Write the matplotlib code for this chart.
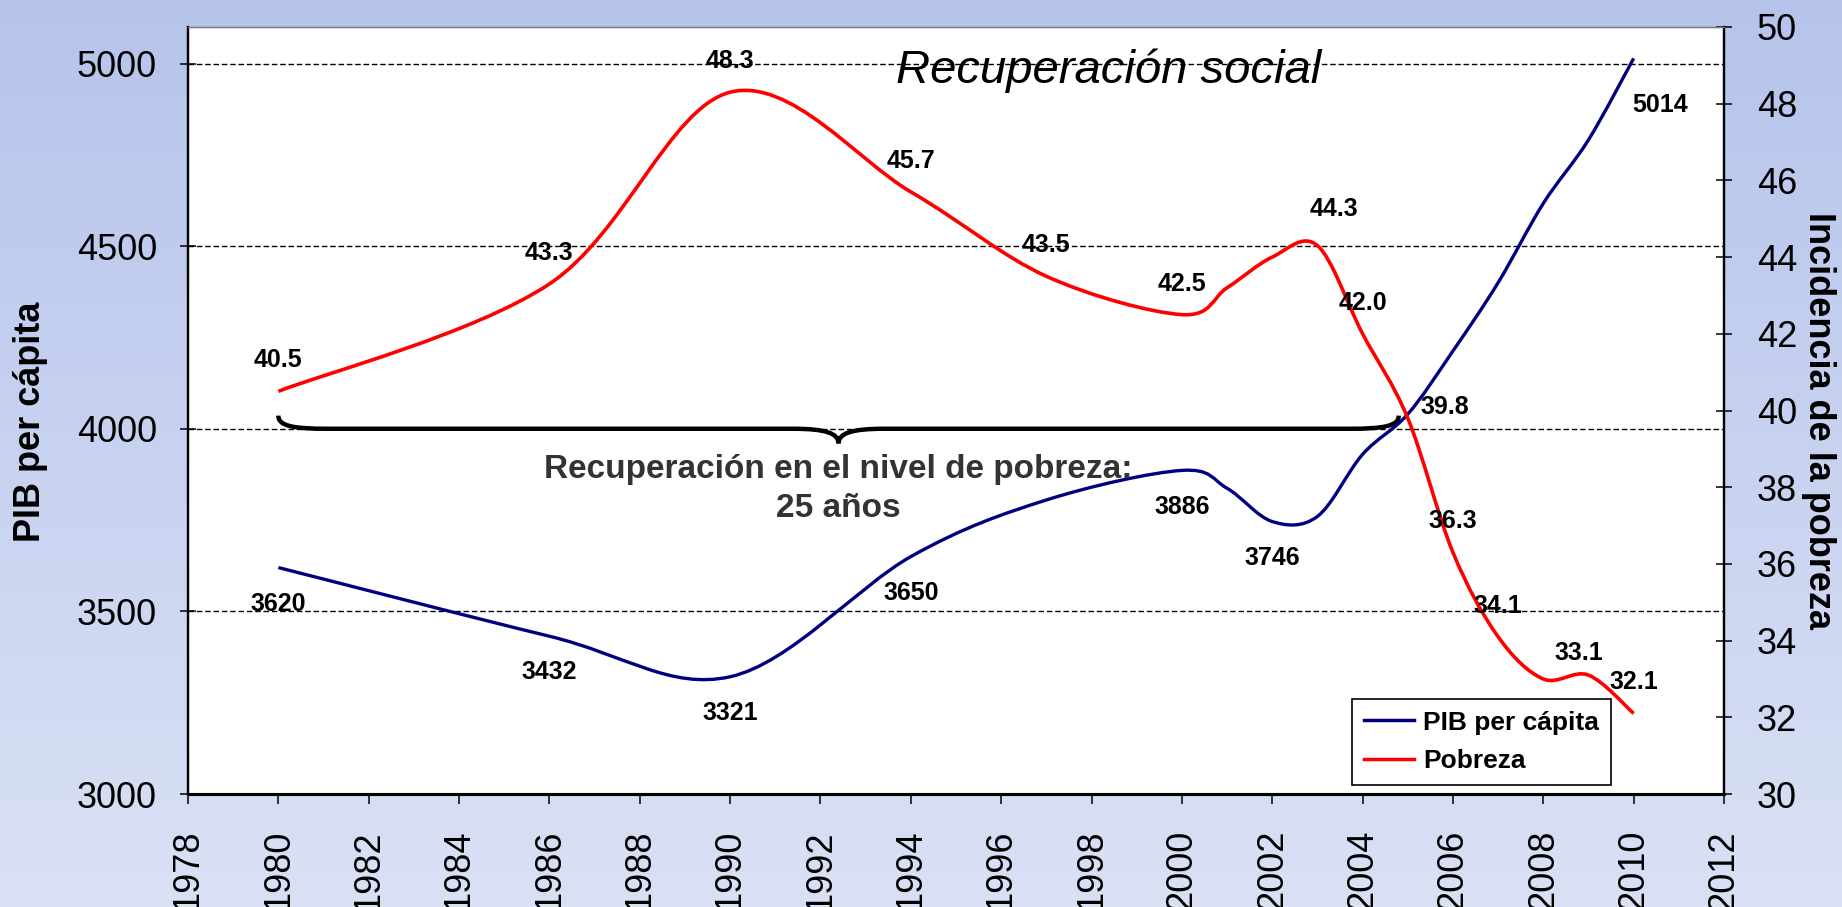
import numpy as np
import matplotlib
matplotlib.use('Agg')
import matplotlib.pyplot as plt
from matplotlib.path import Path
from matplotlib.patches import PathPatch
from matplotlib.lines import Line2D
from matplotlib.colors import LinearSegmentedColormap

plt.rcParams['font.family'] = ['Liberation Sans', 'DejaVu Sans']

# Datos
years = [1980, 1986, 1990, 1994, 1997, 2000, 2001, 2002, 2003, 2004, 2005, 2006, 2007, 2008, 2009, 2010]
pib = [3620, 3432, 3321, 3650, 3805, 3886, 3837, 3746, 3760, 3930, 4040, 4213, 4400, 4617, 4791, 5014]
pobreza = [40.5, 43.3, 48.3, 45.7, 43.5, 42.5, 43.2, 44.0, 44.3, 42.0, 39.8, 36.3, 34.1, 33.0, 33.1, 32.1]

# Etiquetas visibles (None = sin etiqueta)
pib_labels = ['3620', '3432', '3321', '3650', None, '3886', None, '3746', None, None, None, None, None, None, None, '5014']
pob_labels = ['40.5', '43.3', '48.3', '45.7', '43.5', '42.5', None, None, '44.3', '42.0', '39.8', '36.3', '34.1', None, '33.1', '32.1']

x_ticks = list(range(1978, 2013, 2))
pib_ticks = [3000, 3500, 4000, 4500, 5000]
pob_ticks = list(range(30, 51, 2))

brace_start, brace_end = 1980, 2004.8
brace_level = 4000

# Desplazamientos de etiquetas (puntos)
pib_offset = (0, -26)
pob_offset = (0, 22.3)
label_nudge_pib = {2010: (18.7, -33.5)}
label_nudge_pob = {2003: (12.2, 26.6), 2005: (26.6, 8.3), 2009: (-6.8, 15.8)}

BLUE = '#000080'
RED = '#ff0000'


def smooth_path(xs, ys):
    # curva suavizada tipo Excel (Bezier, tangentes 1/6)
    pts = np.column_stack([xs, ys]).astype(float)
    ext = np.vstack([pts[0], pts, pts[-1]])
    verts = [pts[0]]
    codes = [Path.MOVETO]
    for i in range(len(pts) - 1):
        p0, p1, p2, p3 = ext[i], ext[i + 1], ext[i + 2], ext[i + 3]
        verts += [p1 + (p2 - p0) / 6, p2 - (p3 - p1) / 6, p2]
        codes += [Path.CURVE4] * 3
    return Path(verts, codes)


def brace_path(x0, x1, level, up, down):
    mid = (x0 + x1) / 2
    curl, mcurl = 1.1, 1.0
    v = [(x0, level + up), (x0, level + up * 0.2), (x0 + curl * 0.3, level), (x0 + curl, level),
         (mid - mcurl, level),
         (mid - mcurl * 0.3, level), (mid, level - down * 0.3), (mid, level - down),
         (mid, level - down * 0.3), (mid + mcurl * 0.3, level), (mid + mcurl, level),
         (x1 - curl, level),
         (x1 - curl * 0.3, level), (x1, level + up * 0.2), (x1, level + up)]
    c = [Path.MOVETO, Path.CURVE4, Path.CURVE4, Path.CURVE4, Path.LINETO,
         Path.CURVE4, Path.CURVE4, Path.CURVE4, Path.CURVE4, Path.CURVE4, Path.CURVE4,
         Path.LINETO, Path.CURVE4, Path.CURVE4, Path.CURVE4]
    return Path(v, c)


fig = plt.figure(figsize=(18.42, 9.07), dpi=100)

# fondo degradado
bg = fig.add_axes([0, 0, 1, 1], zorder=-10)
grad = np.linspace(0, 1, 256).reshape(-1, 1)
cmap = LinearSegmentedColormap.from_list('bg', ['#b6c4ec', '#dae1f5'])
bg.imshow(grad, aspect='auto', cmap=cmap, extent=[0, 1, 0, 1], origin='upper')
bg.axis('off')

ax = fig.add_axes([188 / 1842, 1 - 794 / 907, 1536 / 1842, 767 / 907])
ax.set_facecolor('white')
ax2 = ax.twinx()

ax.set_xlim(1978, 2012)
ax.set_ylim(3000, 5100)
ax2.set_ylim(30, 50)

ax.set_xticks(x_ticks)
ax.set_xticklabels([str(t) for t in x_ticks], rotation=90, fontsize=26)
ax.set_yticks(pib_ticks)
ax.set_yticklabels([str(t) for t in pib_ticks], fontsize=26)
ax2.set_yticks(pob_ticks)
ax2.set_yticklabels([str(t) for t in pob_ticks], fontsize=26)

ax.tick_params(axis='x', direction='out', length=7.2, width=1.1, pad=18.7)
ax.tick_params(axis='y', direction='inout', length=11.5, width=1.1, pad=16.6)
ax2.tick_params(axis='y', direction='inout', length=11.5, width=1.1, pad=18)

for a in (ax, ax2):
    a.spines['top'].set_color('#808080')
    a.spines['top'].set_linewidth(1.0)
    a.spines['left'].set_linewidth(1.6)
    a.spines['right'].set_linewidth(1.6)
    a.spines['bottom'].set_linewidth(2.2)

for t in pib_ticks[1:]:
    ax.axhline(t, color='black', lw=1.0, ls=(0, (4, 2)), zorder=1)

# lineas suavizadas
ax.add_patch(PathPatch(smooth_path(years, pib), facecolor='none', edgecolor=BLUE, lw=2.4, zorder=3))
ax2.add_patch(PathPatch(smooth_path(years, pobreza), facecolor='none', edgecolor=RED, lw=2.6, zorder=3))

# etiquetas de datos
for yr, v, lab in zip(years, pib, pib_labels):
    if lab:
        off = label_nudge_pib.get(yr, pib_offset)
        ax.annotate(lab, (yr, v), xytext=off, textcoords='offset points',
                    ha='center', va='center', fontsize=18, fontweight='bold', zorder=5)
for yr, v, lab in zip(years, pobreza, pob_labels):
    if lab:
        off = label_nudge_pob.get(yr, pob_offset)
        ax2.annotate(lab, (yr, v), xytext=off, textcoords='offset points',
                     ha='center', va='center', fontsize=18, fontweight='bold', zorder=5)

# llave de recuperacion
ax.add_patch(PathPatch(brace_path(brace_start, brace_end, brace_level, 36, 40),
                       facecolor='none', edgecolor='black', lw=3.2, zorder=2))
ax.text((brace_start + brace_end) / 2, 3835, 'Recuperación en el nivel de pobreza:\n25 años',
        ha='center', va='center', fontsize=24, fontweight='bold', color='#333333',
        linespacing=1.3, zorder=4)

ax.text(0.5996, 0.9266, 'Recuperación social', transform=ax.transAxes, ha='center',
        va='baseline', fontsize=34, fontstyle='italic', zorder=4)

fig.text(30 / 1842, 1 - 422 / 907, 'PIB per cápita', rotation=90, ha='center', va='center',
         fontsize=26, fontweight='bold')
fig.text(1818 / 1842, 1 - 420 / 907, 'Incidencia de la pobreza', rotation=-90, ha='center',
         va='center', fontsize=26, fontweight='bold')

handles = [Line2D([], [], color=BLUE, lw=2.5), Line2D([], [], color=RED, lw=2.5)]
leg = ax2.legend(handles, ['PIB per cápita', 'Pobreza'], loc='lower right',
                 bbox_to_anchor=(0.9264, 0.0117), borderaxespad=0, fancybox=False,
                 framealpha=1, edgecolor='black', prop={'weight': 'bold', 'size': 19},
                 handlelength=1.9, handletextpad=0.35, borderpad=0.45, labelspacing=0.55)
leg.get_frame().set_linewidth(1.2)
leg.set_zorder(10)

fig.savefig('out.png', dpi=100)
